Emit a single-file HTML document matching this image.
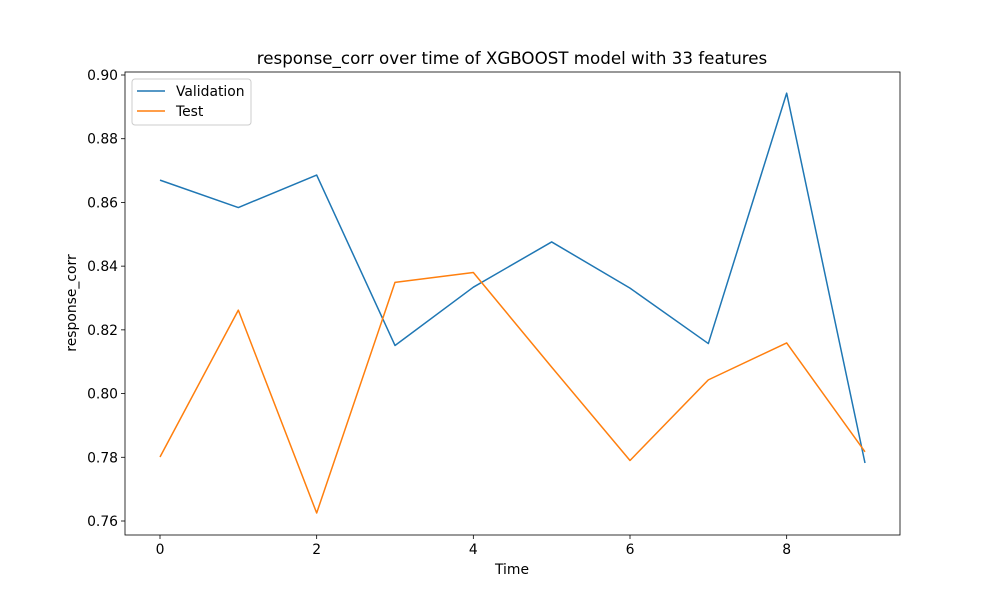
<!DOCTYPE html>
<html><head><meta charset="utf-8"><style>
body{margin:0;background:#fff}
svg{display:block;font-family:"DejaVu Sans","Liberation Sans",sans-serif}
</style></head><body>
<svg id="chart" width="1000" height="600"></svg>
<script>
const timeSteps=[0,1,2,3,4,5,6,7,8,9];
const validationValues=[0.8670,0.8584,0.8686,0.8151,0.8334,0.8476,0.8331,0.8157,0.8943,0.7782];
const testValues=[0.7801,0.8262,0.7625,0.8349,0.8380,0.8083,0.7790,0.8043,0.8159,0.7817];
const yTicks=[0.76,0.78,0.80,0.82,0.84,0.86,0.88,0.90];
const xTicks=[0,2,4,6,8];
const NS="http://www.w3.org/2000/svg";
const svg=document.getElementById('chart');
const L=125,R=900,T=72,B=535;
function xs(v){return 160+v*(865-160)/9;}
function ys(v){return 521-(v-0.76)*(521-75)/0.14;}
function mk(tag,attrs,parent){const e=document.createElementNS(NS,tag);for(const k in attrs)e.setAttribute(k,attrs[k]);(parent||svg).appendChild(e);return e;}
const title=mk('text',{x:512,y:64,'text-anchor':'middle','font-size':16.7,fill:'#000'});


title.textContent='response_corr over time of XGBOOST model with 33 features';
xTicks.forEach(t=>{
  const g=mk('g',{});
  
  
  mk('line',{x1:xs(t),x2:xs(t),y1:B,y2:B+4,stroke:'#000','stroke-width':0.8},g);
  const tx=mk('text',{x:xs(t),y:B+19,'text-anchor':'middle','font-size':13.9},g);tx.textContent=t;
});
yTicks.forEach(t=>{
  const g=mk('g',{});
  
  
  mk('line',{x1:L-4,x2:L,y1:ys(t),y2:ys(t),stroke:'#000','stroke-width':0.8},g);
  const tx=mk('text',{x:L-7,y:ys(t)+5,'text-anchor':'end','font-size':13.9},g);tx.textContent=t.toFixed(2);
});
const xl=mk('text',{x:512,y:574,'text-anchor':'middle','font-size':13.9});


xl.textContent='Time';
const yl=mk('text',{x:76,y:303,'text-anchor':'middle','font-size':13.9,transform:'rotate(-90 76 303)'});


yl.textContent='response_corr';
function series(vals,color,name){
  const p=mk('polyline',{points:vals.map((v,i)=>xs(timeSteps[i])+','+ys(v)).join(' '),fill:'none',stroke:color,'stroke-width':1.5,'stroke-linejoin':'round'});
  
  
}
series(validationValues,'#1f77b4','validation-line');
series(testValues,'#ff7f0e','test-line');
const frame=mk('rect',{x:L,y:T,width:R-L,height:B-T,fill:'none',stroke:'#000','stroke-width':0.8});


const lg=mk('g',{});


mk('rect',{x:132,y:79,width:119,height:46,rx:3,fill:'#fff',stroke:'#ccc','stroke-width':1},lg);
[['Validation','#1f77b4',91],['Test','#ff7f0e',111]].forEach(([n,c,y])=>{
  const e=mk('g',{},lg);
  
  
  mk('line',{x1:137,x2:165,y1:y,y2:y,stroke:c,'stroke-width':1.5},e);
  const t=mk('text',{x:176,y:y+5,'font-size':13.9},e);t.textContent=n;
});
</script>
</body></html>
